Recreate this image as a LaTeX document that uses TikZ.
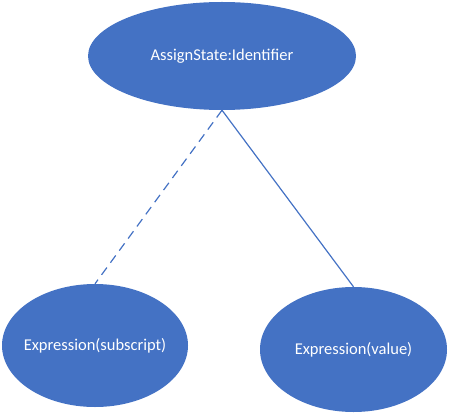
\documentclass[tikz,border=0pt]{standalone}
\usepackage{fontspec}
\setmainfont{Carlito}
\usetikzlibrary{shapes.geometric}
\definecolor{obl}{HTML}{4472C4}
\tikzset{
  blob/.style={ellipse, fill=obl, inner sep=0pt},
  lbl/.style={text=white, inner sep=0pt, font=\fontsize{16.5}{18}\selectfont},
  link/.style={draw=obl, line width=1.2pt},
}
\begin{document}
\begin{tikzpicture}[x=1pt,y=-1pt]
\useasboundingbox (0,0) rectangle (449,414);
\node[blob, minimum width=268pt, minimum height=108pt] (top) at (222,56) {};
\node[lbl] (topt) at (top.center) {AssignState:Identifier};
\node[blob, minimum width=186pt, minimum height=123pt] (sub) at (95,345.5) {};
\node[lbl] (subt) at (sub.center) {Expression(subscript)};
\node[blob, minimum width=187pt, minimum height=125pt] (val) at (353.5,349.5) {};
\node[lbl] (valt) at (val.center) {Expression(value)};
\draw[link, dash pattern=on 9pt off 6pt] (top.south) -- (sub.north);
\draw[link] (top.south) -- (val.north);
\end{tikzpicture}
\end{document}
